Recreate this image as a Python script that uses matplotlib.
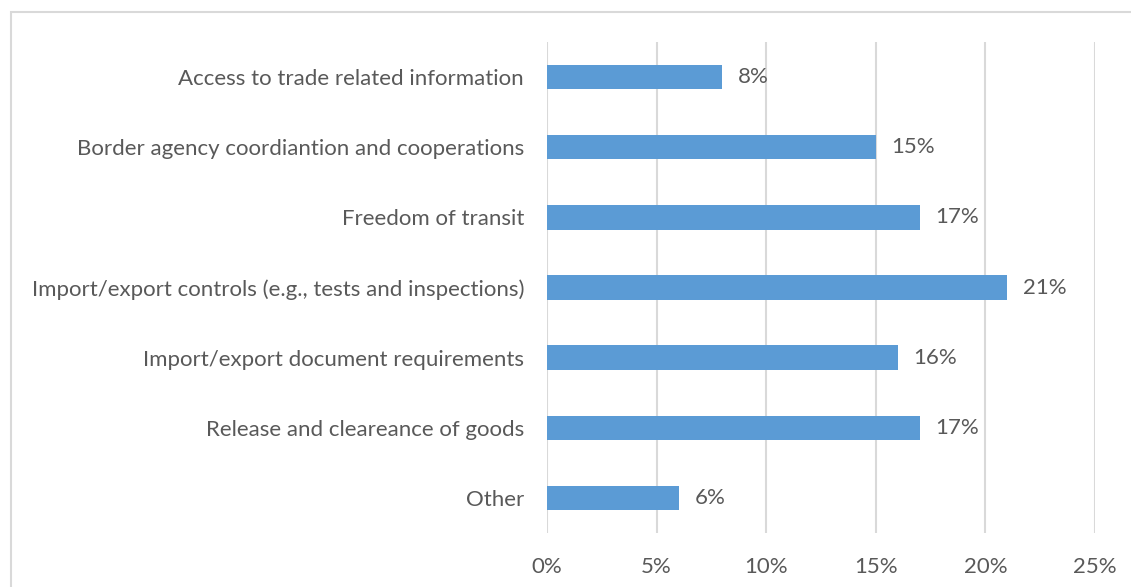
import matplotlib.pyplot as plt
from matplotlib.patches import Rectangle
from matplotlib.ticker import FuncFormatter

# survey categories, top to bottom
categories = [
    'Access to trade related information',
    'Border agency coordiantion and cooperations',
    'Freedom of transit',
    'Import/export controls (e.g., tests and inspections)',
    'Import/export document requirements',
    'Release and cleareance of goods',
    'Other',
]
shares = [8, 15, 17, 21, 16, 17, 6]
xticks = [0, 5, 10, 15, 20, 25]

text_color = '#595959'
bar_color = '#5B9BD5'
grid_color = '#D9D9D9'

plt.rcParams['font.family'] = ['Lato', 'DejaVu Sans']

fig = plt.figure(figsize=(11.31, 5.87), dpi=100)
ax = fig.add_axes([547 / 1131, 1 - 533 / 587, (1095 - 547) / 1131, (533 - 42) / 587])

# chart area border
fig.patches.append(Rectangle((11 / 1131, -0.1), 1.2, 1.1 - 12 / 587,
                             transform=fig.transFigure, fill=False,
                             edgecolor=grid_color, linewidth=1.5))

pos = list(range(len(categories)))
ax.barh(pos, shares, height=0.35, color=bar_color, zorder=3)

for y, v in zip(pos, shares):
    ax.text(v + 0.72, y, f'{v}%', va='center', ha='left', fontsize=16, color=text_color)

ax.set_xlim(0, 25)
ax.set_ylim(len(categories) - 0.5, -0.5)
ax.set_yticks(pos)
ax.set_yticklabels(categories)
ax.set_xticks(xticks)
ax.xaxis.set_major_formatter(FuncFormatter(lambda v, p: f'{v:.0f}%'))
ax.tick_params(axis='both', length=0, labelsize=16, labelcolor=text_color)
ax.tick_params(axis='y', pad=16.5)
ax.tick_params(axis='x', pad=17)
ax.grid(axis='x', color=grid_color, linewidth=1.5, zorder=0)
for s in ax.spines.values():
    s.set_visible(False)

fig.savefig('out.png', dpi=100)
